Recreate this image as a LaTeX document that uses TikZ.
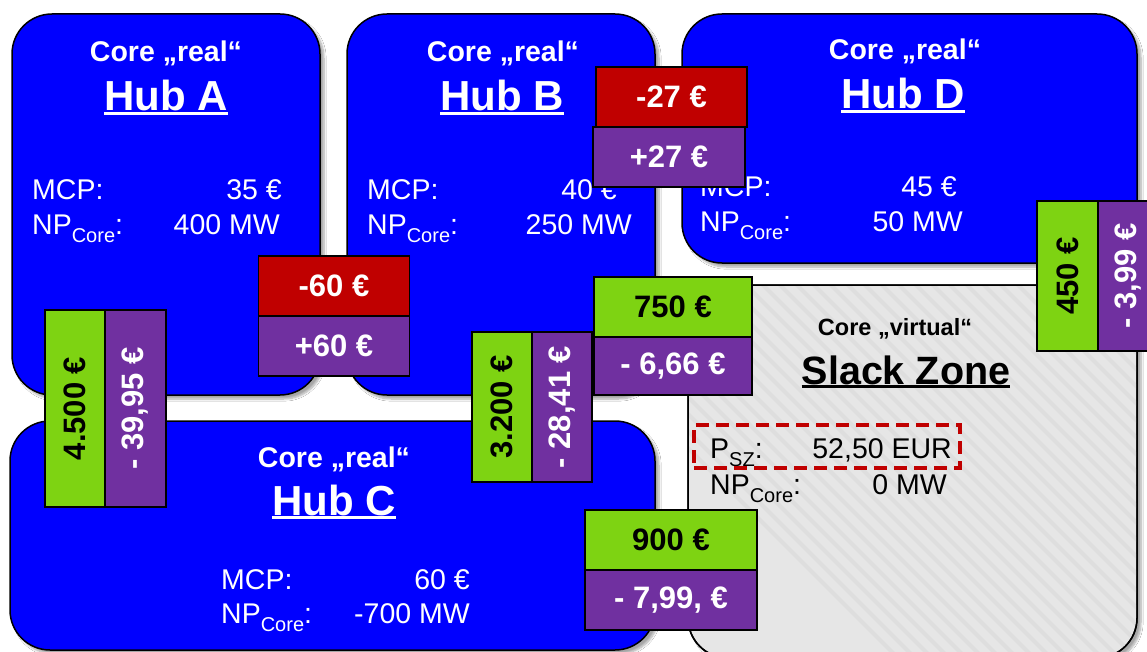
\documentclass[tikz,border=0pt]{standalone}
\usepackage{fontspec}
\setmainfont{Liberation Sans}
\usetikzlibrary{shadows.blur}

\definecolor{hubblue}{RGB}{0,0,255}
\definecolor{flowgreen}{RGB}{126,211,18}
\definecolor{pricepurple}{RGB}{112,48,160}
\definecolor{lossred}{RGB}{192,0,0}
\definecolor{slackgray}{RGB}{230,230,230}
\definecolor{slackstripe}{RGB}{222,222,222}

\newcommand{\fsz}[1]{\fontsize{#1}{#1}\selectfont}
% underlined title with a thick rule just below the baseline
\newcommand{\ulbox}[1]{\setbox0\hbox{#1}\rlap{\rule[-4pt]{\wd0}{2.6pt}}\box0}
\newcommand{\npcore}{NP\raisebox{-8pt}{\fsz{20}Core}:}

\begin{document}
\begin{tikzpicture}[x=1pt,y=-1pt,
  hub/.style={draw=black, line width=1.5pt, fill=hubblue, rounded corners=40pt, inner sep=0pt,
    blur shadow={shadow xshift=4pt, shadow yshift=-4pt, shadow blur steps=8, shadow opacity=35}},
  coretitle/.style={text=white, font=\bfseries\fsz{28.5}, anchor=base, inner sep=0pt},
  hubname/.style={text=white, font=\bfseries\fsz{42}, anchor=base, inner sep=0pt},
  infol/.style={text=white, font=\fsz{28.5}, anchor=base west, inner sep=0pt},
  infor/.style={text=white, font=\fsz{28.5}, anchor=base east, inner sep=0pt},
  valbox/.style={draw=black, line width=1.3pt, inner sep=0pt, font=\bfseries\fsz{31}},
  redbox/.style={valbox, fill=lossred, text=white},
  purplebox/.style={valbox, fill=pricepurple, text=white},
  greenbox/.style={valbox, fill=flowgreen, text=black}
]
\useasboundingbox (0,0) rectangle (1147,652);
\fill[white] (0,0) rectangle (1147,652);

% ---- real hubs ----
\node[hub, minimum width=308, minimum height=381] (hubA) at (166,204.5) {};
\node[hub, minimum width=308, minimum height=381] (hubB) at (501,204.5) {};
\node[hub, minimum width=455, minimum height=249] (hubD) at (909.5,138.5) {};
\node[hub, minimum width=645, minimum height=229] (hubC) at (332.5,535.5) {};

% ---- virtual slack zone ----
\draw[line width=1.5pt, fill=slackgray, rounded corners=40pt,
  blur shadow={shadow xshift=4pt, shadow yshift=-4pt, shadow blur steps=8, shadow opacity=35}]
  (688,285) rectangle (1137,658);
\begin{scope}
  \clip[rounded corners=40pt] (689,286) rectangle (1136,657);
  \foreach \s in {0,17,...,850}
    \draw[slackstripe, line width=4pt] (520+\s,280) -- (520+\s+380,660);
\end{scope}
\draw[line width=1.5pt, rounded corners=40pt] (688,285) rectangle (1137,658);
\node[draw=none, minimum width=449, minimum height=373, inner sep=0pt] (slack) at (912.5,471.5) {};

% ---- hub texts ----
\node[coretitle] (aCore) at (166,62) {Core „real“};
\node[hubname] (aName) at (166,111) {\ulbox{Hub A}};
\node[infol] (aMcp) at (32,200) {MCP:};
\node[infor] (aMcpV) at (282,200) {35 €};
\node[infol] (aNp) at (32,234) {\npcore};
\node[infor] (aNpV) at (280,234) {400 MW};

\node[coretitle] (bCore) at (503,62) {Core „real“};
\node[hubname] (bName) at (502,111) {\ulbox{Hub B}};
\node[infol] (bMcp) at (367,200) {MCP:};
\node[infor] (bMcpV) at (617,200) {40 €};
\node[infol] (bNp) at (367,234) {\npcore};
\node[infor] (bNpV) at (632,234) {250 MW};

\node[coretitle] (dCore) at (905,60) {Core „real“};
\node[hubname] (dName) at (903,109) {\ulbox{Hub D}};
\node[infol] (dMcp) at (700,197) {MCP:};
\node[infor] (dMcpV) at (957,197) {45 €};
\node[infol] (dNp) at (700,232) {\npcore};
\node[infor] (dNpV) at (963,232) {50 MW};

\node[coretitle] (cCore) at (334,467) {Core „real“};
\node[hubname] (cName) at (334,515) {\ulbox{Hub C}};
\node[infol] (cMcp) at (221,589) {MCP:};
\node[infor] (cMcpV) at (470,589) {60 €};
\node[infol] (cNp) at (221,623) {\npcore};
\node[infor] (cNpV) at (470,623) {-700 MW};

% ---- slack zone texts ----
\node[coretitle, text=black, font=\bfseries\fsz{23.5}] (sCore) at (895,335) {Core „virtual“};
\node[hubname, text=black, font=\bfseries\fsz{39.5}] (sName) at (906,384) {\ulbox{Slack Zone}};
\node[infol, text=black] (sP) at (710,458) {P\raisebox{-8pt}{\fsz{20}SZ}:};
\node[infor, text=black] (sPV) at (952,458) {52,50 EUR};
\node[infol, text=black] (sNp) at (710,494) {\npcore};
\node[infor, text=black] (sNpV) at (947,494) {0 MW};
\node[draw=lossred, line width=4pt, dash pattern=on 13pt off 7pt, inner sep=0pt,
  minimum width=266, minimum height=43] (szPrice) at (827,446.5) {};

% ---- congestion rents / price differences on the borders ----
\node[redbox, minimum width=151, minimum height=60] (rAB) at (334,286) {-60 €};
\node[purplebox, minimum width=151, minimum height=60] (pAB) at (334,346) {+60 €};

\node[redbox, minimum width=151, minimum height=60] (rBD) at (671.5,97) {-27 €};
\node[purplebox, minimum width=152, minimum height=60] (pBD) at (669,157) {+27 €};

\node[greenbox, minimum width=158, minimum height=60] (gBS) at (673,307) {750 €};
\node[purplebox, minimum width=158, minimum height=58] (pBS) at (673,366) {- 6,66 €};

\node[greenbox, minimum width=172, minimum height=60] (gCS) at (671,540) {900 €};
\node[purplebox, minimum width=172, minimum height=60] (pCS) at (671,600) {- 7,99, €};

\node[greenbox, rotate=90, minimum width=197, minimum height=60] (gAC) at (75,408.5) {4.500 €};
\node[purplebox, rotate=90, minimum width=197, minimum height=61] (pAC) at (135.5,408.5) {- 39,95 €};

\node[greenbox, rotate=90, minimum width=150, minimum height=60] (gBC) at (502,407) {3.200 €};
\node[purplebox, rotate=90, minimum width=150, minimum height=60] (pBC) at (562,407) {- 28,41 €};

\node[greenbox, rotate=90, minimum width=150, minimum height=61] (gDS) at (1067.5,276) {450 €};
\node[purplebox, rotate=90, minimum width=150, minimum height=60] (pDS) at (1128,276) {- 3,99 €};
\end{tikzpicture}
\end{document}
